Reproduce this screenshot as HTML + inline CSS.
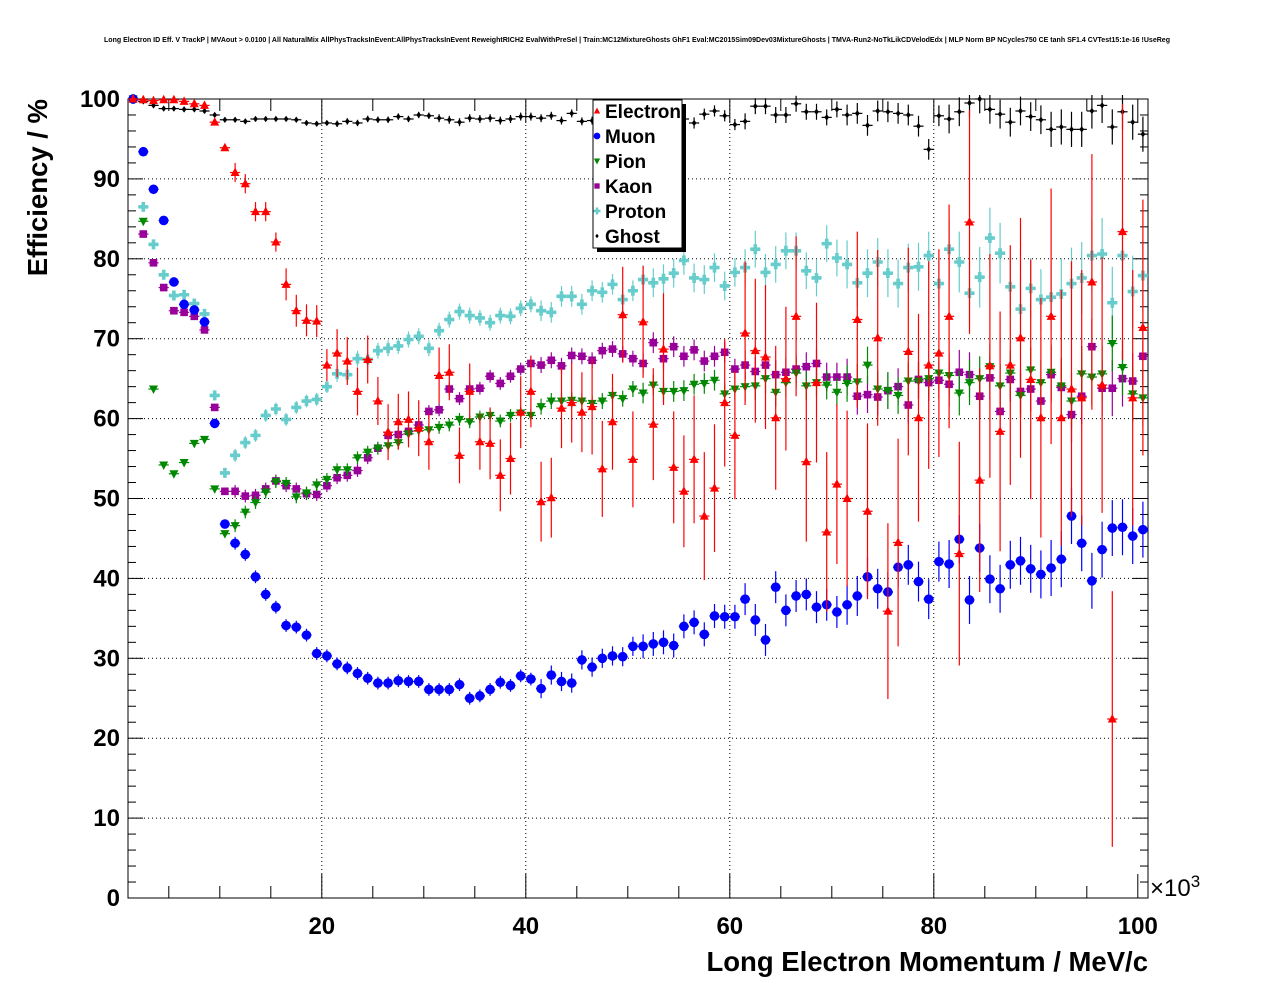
<!DOCTYPE html>
<html><head><meta charset="utf-8"><style>
html,body{margin:0;padding:0;background:#fff;}
svg{display:block;font-family:"Liberation Sans",sans-serif;}
</style></head><body>
<svg id="chart" width="1276" height="996" viewBox="0 0 1276 996" xmlns="http://www.w3.org/2000/svg">
<rect x="0" y="0" width="1276" height="996" fill="#fff"/>
<text x="637" y="42" font-size="7" font-weight="bold" text-anchor="middle" textLength="1066" lengthAdjust="spacingAndGlyphs">Long Electron ID Eff. V TrackP | MVAout &gt; 0.0100 | All NaturalMix AllPhysTracksInEvent:AllPhysTracksInEvent ReweightRICH2 EvalWithPreSel | Train:MC12MixtureGhosts GhF1 Eval:MC2015Sim09Dev03MixtureGhosts | TMVA-Run2-NoTkLikCDVelodEdx | MLP Norm BP NCycles750 CE tanh SF1.4 CVTest15:1e-16 !UseReg</text>
<g id="grid"></g><g id="axes"></g><g id="series"></g><g id="legend"></g>
<text transform="translate(47,99) rotate(-90)" font-size="27.5" font-weight="bold" text-anchor="end">Efficiency / %</text>
<text x="1148" y="971" font-size="27.5" font-weight="bold" text-anchor="end">Long Electron Momentum / MeV/c</text>
<text x="1150" y="896" font-size="24">×10<tspan font-size="17" dy="-9">3</tspan></text>
</svg>
<script>
const electron=[100,99.9,99.8,99.9,99.9,99.7,99.4,99.2,97.1,93.9,90.8,89.4,85.9,85.9,82.1,76.8,73.5,72.3,72.2,66.7,68.2,67.2,63.4,67.4,62.2,58.3,59.6,59.9,58.8,57.1,65.4,65.8,55.4,63.4,57.1,56.9,52.9,55.0,60.8,63.4,49.6,50.1,61.3,62,60.8,61.5,53.7,59.6,73.0,54.9,72.1,59.3,68.7,53.9,50.9,54.9,47.8,51.3,62,57.9,70.7,68.5,67.7,60.1,65,72.8,54.6,64.5,45.8,51.8,50.0,72.4,48.4,70.1,35.9,44.5,68.4,60.1,66.7,68.2,72.8,43.1,84.6,52.3,66.6,58.4,66.7,70.1,64.9,60.1,72.8,60.1,63.7,62.6,77.1,64.2,22.4,83.4,62.6,71.4];
const muon=[100,93.4,88.7,84.8,77.1,74.3,73.6,72.1,59.4,46.8,44.4,43.0,40.2,38.0,36.4,34.1,33.9,32.9,30.6,30.3,29.3,28.8,28.1,27.5,26.9,26.9,27.2,27.1,27.1,26.1,26.1,26.1,26.7,25.0,25.3,26.1,27.0,26.6,27.8,27.4,26.2,27.9,27.1,26.9,29.8,28.9,30.0,30.3,30.2,31.5,31.5,31.8,32.0,31.6,34.0,34.5,33.0,35.3,35.2,35.2,37.4,34.8,32.3,38.9,36.0,37.8,38.0,36.4,36.7,35.8,36.7,37.8,40.2,38.7,38.3,41.4,41.7,39.6,37.4,42.1,41.8,44.9,37.3,43.8,39.9,38.7,41.7,42.2,41.2,40.5,41.3,42.4,47.8,44.4,39.7,43.6,46.3,46.4,45.3,46.1];
const pion=[100,84.7,63.7,54.2,53.1,54.5,56.9,57.4,51.2,45.6,46.6,48.3,49.5,50.8,52.1,51.9,50.2,50.7,51.7,52.4,53.6,53.6,55.1,55.8,56.3,56.6,57.0,58.1,58.5,58.6,58.9,59.2,59.9,59.6,60.2,60.4,59.7,60.4,60.7,60.4,61.5,62.2,62.2,62.3,62.2,61.9,62.2,62.9,62.5,63.7,63.2,64.2,63.4,63.4,63.5,64.3,64.4,64.8,63.1,63.7,64.0,64.1,65.0,63.3,64.5,65.7,64.1,64.5,64.2,63.3,64.4,64.6,66.7,63.7,63.5,62.9,64.7,64.7,65.0,65.7,65.4,63.2,64.5,65.0,66.5,64.1,65.7,62.9,66.1,64.5,65.8,64.1,62.2,65.6,65.2,65.6,69.4,66.4,63.1,62.6];
const kaon=[100,83.1,79.5,76.4,73.5,73.3,72.8,71.1,61.4,50.9,50.9,50.3,50.4,51.2,52.2,51.6,51.2,50.6,50.5,51.6,52.6,52.9,53.5,55.1,56.3,57.9,58.0,58.4,59.2,60.9,61.1,63.7,62.5,63.7,63.8,65.3,64.4,65.3,66.2,66.9,66.7,67.3,66.6,67.9,67.8,67.3,68.5,68.7,68.1,67.5,66.9,69.5,67.5,69.0,67.8,68.6,67.2,67.8,68.3,66.2,66.7,65.9,66.7,65.5,65.8,66.2,66.5,66.9,65.2,65.2,65.2,62.8,63.0,62.7,63.5,64.0,61.7,64.9,64.5,64.8,64.3,65.8,65.5,62.8,65.1,60.9,64.9,63.4,63.7,62.2,65.5,63.9,60.5,62.8,69.0,63.8,63.8,65.0,64.7,67.8];
const proton=[100,86.5,81.8,78.0,75.4,75.5,74.4,73.1,62.9,53.2,55.4,57.0,57.9,60.4,61.2,59.9,61.4,62.2,62.4,64.0,65.6,65.5,67.5,67.4,68.5,68.8,69.1,69.9,70.3,68.8,71.0,72.4,73.4,72.9,72.6,72.0,72.9,72.8,73.8,74.3,73.5,73.3,75.3,75.3,74.3,76.0,75.8,76.8,74.9,76.0,77.4,77.0,77.5,78.2,79.8,77.6,77.4,78.9,76.6,78.3,78.9,81.2,78.3,79.3,81.0,81.0,78.5,77.6,81.9,80.1,79.3,77.0,78.2,79.6,78.2,76.9,78.9,79.0,80.4,76.9,81.2,79.6,75.7,77.7,82.6,80.7,76.5,73.7,76.3,74.9,75.2,75.6,76.9,77.6,80.4,80.6,74.5,80.4,75.9,77.9];
const ghost=[100,99.7,99.2,98.8,98.8,98.7,98.7,98.5,98.0,97.4,97.4,97.2,97.5,97.5,97.5,97.5,97.4,97.0,96.9,97.0,96.9,97.2,97.0,97.5,97.4,97.4,97.8,97.5,98.0,97.9,97.6,97.4,97.1,97.6,97.5,97.6,97.3,97.5,97.8,97.8,97.6,97.9,97.3,98.2,97.2,97.3,97.5,97.5,97.5,97.5,97.5,97.5,97.5,97.5,97.5,97.0,98.1,98.5,97.9,96.8,97.2,99.1,99.1,98.0,98.0,99.4,98.4,98.4,97.7,98.7,98.0,98.2,96.7,98.5,98.4,98.2,98.0,96.6,93.7,97.9,97.5,98.4,99.5,100.0,98.7,98.1,97.1,98.5,97.8,97.4,96.2,96.5,96.2,96.2,98.5,99.2,96.5,98.4,97.1,95.6];
// error half-lengths: electron per 5-bin block, others per 10-bin block
const electronErr=[0.3,0.4,1.2,2.0,3.0,3.5,3.5,4.5,5,6,7,8,9,10,11,13,14,15,16,16];
const muonErr=[0.3,0.8,0.8,0.8,1.2,1.5,2,2.5,3,3.5];
const pionErr=[0.3,0.8,0.8,0.8,1,1.3,1.8,2.3,2.8,3.5];
const kaonErr=[0.3,0.8,0.8,0.8,1,1.3,1.8,2.3,2.8,3.5];
const protonErr=[0.3,0.8,1,1,1.3,1.8,2.3,3,3.8,4.5];
const ghostErr=[0.2,0.3,0.4,0.5,0.5,0.7,1,1.3,1.8,2.2];
const xTicks=[20,40,60,80,100];
const yTicks=[0,10,20,30,40,50,60,70,80,90,100];

const NS="http://www.w3.org/2000/svg";
const X0=128,X1=1148,Y0=898,Y1=99,XMIN=1,XMAX=101,YMIN=0,YMAX=100;
function sx(v){return X0+(v-XMIN)/(XMAX-XMIN)*(X1-X0);}
function sy(v){return Y0-(v-YMIN)/(YMAX-YMIN)*(Y0-Y1);}
function mk(tag,attrs,parent){const e=document.createElementNS(NS,tag);for(const k in attrs)e.setAttribute(k,attrs[k]);parent.appendChild(e);return e;}
const grid=document.getElementById('grid'),axes=document.getElementById('axes'),ser=document.getElementById('series'),leg=document.getElementById('legend');

xTicks.forEach(t=>{if(t<100){const l=mk('line',{x1:sx(t),x2:sx(t),y1:Y0,y2:Y1,stroke:'#000','stroke-width':1,'stroke-dasharray':'1,3'},grid);

}});
yTicks.forEach(t=>{if(t>0&&t<100){const l=mk('line',{x1:X0,x2:X1,y1:sy(t),y2:sy(t),stroke:'#000','stroke-width':1,'stroke-dasharray':'1,3'},grid);

}});

const fr=mk('rect',{x:X0,y:Y1,width:X1-X0,height:Y0-Y1,fill:'none',stroke:'#000','stroke-width':1},axes);


for(let v=0;v<=100;v+=2){const major=v%10===0;const L=major?15:8;
 mk('line',{x1:X0,x2:X0+L,y1:sy(v),y2:sy(v),stroke:'#000'},axes);
 mk('line',{x1:X1,x2:X1-L,y1:sy(v),y2:sy(v),stroke:'#000'},axes);}
yTicks.forEach(t=>{const tx=mk('text',{x:120,y:sy(t)+8,'font-size':24,'font-weight':'bold','text-anchor':'end'},axes);tx.textContent=t;

});
for(let v=5;v<=100;v+=5){const major=v%20===0;const L=major?24:12;
 mk('line',{x1:sx(v),x2:sx(v),y1:Y0,y2:Y0-L,stroke:'#000'},axes);
 mk('line',{x1:sx(v),x2:sx(v),y1:Y1,y2:Y1+L,stroke:'#000'},axes);}
xTicks.forEach(t=>{const tx=mk('text',{x:sx(t),y:934,'font-size':24,'font-weight':'bold','text-anchor':'middle'},axes);tx.textContent=t;

});

function marker(kind,cx,cy,color,g){
 if(kind==='tri')return mk('polygon',{points:`${cx},${cy-5} ${cx-4.5},${cy+3.5} ${cx+4.5},${cy+3.5}`,fill:color},g);
 if(kind==='tridown')return mk('polygon',{points:`${cx},${cy+5} ${cx-4.5},${cy-3.5} ${cx+4.5},${cy-3.5}`,fill:color},g);
 if(kind==='circ')return mk('circle',{cx:cx,cy:cy,r:4.8,fill:color},g);
 if(kind==='sq')return mk('rect',{x:cx-3.8,y:cy-3.8,width:7.6,height:7.6,fill:color},g);
 if(kind==='cross')return mk('path',{d:`M${cx-1.8},${cy-5}h3.6v3.2h3.2v3.6h-3.2v3.2h-3.6v-3.2h-3.2v-3.6h3.2z`,fill:color},g);
 if(kind==='dot')return mk('path',{d:`M${cx},${cy-3.2}L${cx+2.4},${cy}L${cx},${cy+3.2}L${cx-2.4},${cy}z`,fill:color},g);
}
const seriesList=[
 {name:'electron',vals:electron,err:electronErr,blk:5,kind:'tri',color:'#ff0000'},
 {name:'muon',vals:muon,err:muonErr,blk:10,kind:'circ',color:'#0000ff'},
 {name:'pion',vals:pion,err:pionErr,blk:10,kind:'tridown',color:'#008800'},
 {name:'kaon',vals:kaon,err:kaonErr,blk:10,kind:'sq',color:'#990099'},
 {name:'proton',vals:proton,err:protonErr,blk:10,kind:'cross',color:'#66cccc'},
 {name:'ghost',vals:ghost,err:ghostErr,blk:10,kind:'dot',color:'#000000'}];
seriesList.slice().reverse().forEach(s=>{
 const g=mk('g',{},ser);
 
 
 s.vals.forEach((v,i)=>{
  const c=i+1.5,cx=sx(c),cy=sy(v);const e=s.err[Math.floor(i/s.blk)];
  const top=sy(Math.min(v+e,100.5)),bot=sy(Math.max(v-e,0));
  mk('line',{x1:sx(c-0.5),x2:sx(c+0.5),y1:cy,y2:cy,stroke:s.color,'stroke-width':1.2},g);
  mk('line',{x1:cx,x2:cx,y1:top,y2:bot,stroke:s.color,'stroke-width':1.2},g);
  const m=marker(s.kind,cx,cy,s.color,g);
  
  
 });
});

const lx=593,ly=100,lw=89,lh=148;
mk('rect',{x:lx+4,y:ly+4,width:lw,height:lh,fill:'#000'},leg);
const lb=mk('rect',{x:lx,y:ly,width:lw,height:lh,fill:'#fff',stroke:'#000','stroke-width':1},leg);


const labels=['Electron','Muon','Pion','Kaon','Proton','Ghost'];
seriesList.forEach((s,k)=>{
 const y=ly+11+k*25;
 const g=mk('g',{},leg);
 
 
 const sm=marker(s.kind,lx+4,y,s.color,g);
 sm.setAttribute('transform',`translate(${lx+4},${y}) scale(0.7) translate(${-(lx+4)},${-y})`);
 const t=mk('text',{x:lx+12,y:y+7,'font-size':19,'font-weight':'bold'},g);t.textContent=labels[k];
});
</script>
</body></html>
